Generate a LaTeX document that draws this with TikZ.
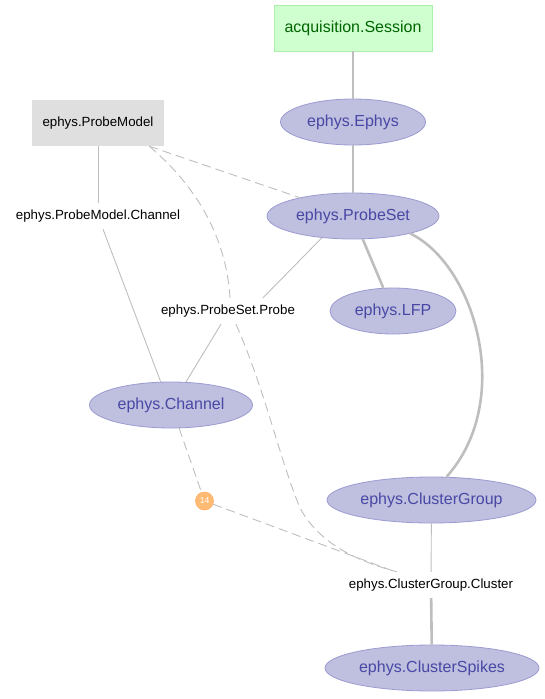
\documentclass[tikz,border=0pt]{standalone}
\usepackage{fontspec}
\setmainfont{Liberation Sans}
\usetikzlibrary{shapes.geometric,calc}
\definecolor{edgegray}{RGB}{190,190,190}
\definecolor{impfill}{RGB}{191,191,223}
\definecolor{impdraw}{RGB}{155,155,210}
\definecolor{imptext}{RGB}{72,72,165}
\definecolor{manfill}{RGB}{207,255,207}
\definecolor{mandraw}{RGB}{170,240,170}
\definecolor{mantext}{RGB}{0,100,0}
\definecolor{lookfill}{RGB}{223,223,223}
\definecolor{aliasfill}{RGB}{255,187,115}
\definecolor{aliasdraw}{RGB}{255,175,100}
\tikzset{
  imported/.style={ellipse, fill=impfill, draw=impdraw, line width=0.8pt, text=imptext,
    font=\fontsize{16}{16}\selectfont, minimum height=46pt, inner sep=0pt},
  manual/.style={rectangle, fill=manfill, draw=mandraw, line width=0.8pt, text=mantext,
    font=\fontsize{16}{16}\selectfont, minimum width=158pt, minimum height=46pt, inner sep=0pt},
  lookup/.style={rectangle, fill=lookfill, text=black,
    font=\fontsize{13.3}{13.3}\selectfont, minimum width=132pt, minimum height=46pt, inner sep=0pt},
  partlbl/.style={rectangle, text=black, font=\fontsize{13.3}{13.3}\selectfont,
    minimum height=26pt, inner sep=0pt},
  alias/.style={circle, fill=aliasfill, draw=aliasdraw, line width=0.6pt, text=white,
    font=\fontsize{8.5}{8.5}\selectfont, minimum size=18pt, inner sep=0pt},
  thickedge/.style={draw=edgegray, line width=2.6pt},
  thinedge/.style={draw=edgegray, line width=0.9pt},
  dashedge/.style={draw=edgegray, line width=0.9pt, dash pattern=on 9pt off 5pt},
}
\begin{document}
\begin{tikzpicture}[x=1pt,y=-1pt]
\useasboundingbox (0,0) rectangle (544,699);
% nodes
\node[manual] (ses) at (353,28) {acquisition.Session};
\node[imported, minimum width=145pt] (eph) at (353,122) {ephys.Ephys};
\node[lookup] (pm) at (98,123) {ephys.ProbeModel};
\node[imported, minimum width=172pt] (ps) at (353,216) {ephys.ProbeSet};
\node[partlbl] (pmc) at (98,216) {ephys.ProbeModel.Channel};
\node[imported, minimum width=126pt] (lfp) at (393,311) {ephys.LFP};
\node[partlbl] (probe) at (228,311) {ephys.ProbeSet.Probe};
\node[imported, minimum width=163pt] (ch) at (171,405) {ephys.Channel};
\node[alias] (n14) at (204.5,501) {14};
\node[imported, minimum width=209pt] (cg) at (431.5,500) {ephys.ClusterGroup};
\node[partlbl] (cl) at (431,585) {ephys.ClusterGroup.Cluster};
\node[imported, minimum width=214pt] (csp) at (432,668) {ephys.ClusterSpikes};
% edges
\draw[thickedge] (ses) -- (eph);
\draw[thickedge] (eph) -- (ps);
\draw[thickedge] (ps) -- (lfp);
\draw[thickedge] (ps.-17) .. controls (475,265) and (515,400) .. (cg.57);
\draw[thinedge] (pm) -- (pmc);
\draw[thinedge] ($(pmc.south)+(5,0)$) -- (ch.114);
\draw[dashedge] ($(pm.south east)+(-15,0)$) -- (ps.161);
\draw[dashedge] ($(pm.south east)+(-15,0)$) .. controls (195,185) and (226,235) .. ($(probe.north)+(2,0)$);
\draw[dashedge] ($(probe.south)+(8,0)$) .. controls (265,390) and (280,460) .. (300,508)
  .. controls (320,545) and (360,562) .. ($(cl.north)+(-34,0)$);
\draw[thinedge] (ps.215) -- ($(probe.north)+(35,0)$);
\draw[thinedge] ($(probe.south)+(-7,0)$) -- (ch.57);
\draw[dashedge] (ch) -- (n14);
\draw[dashedge] (n14) -- (cl);
\draw[thinedge] (cg) -- (cl);
\draw[thickedge] (cl) -- (csp);
\end{tikzpicture}
\end{document}
